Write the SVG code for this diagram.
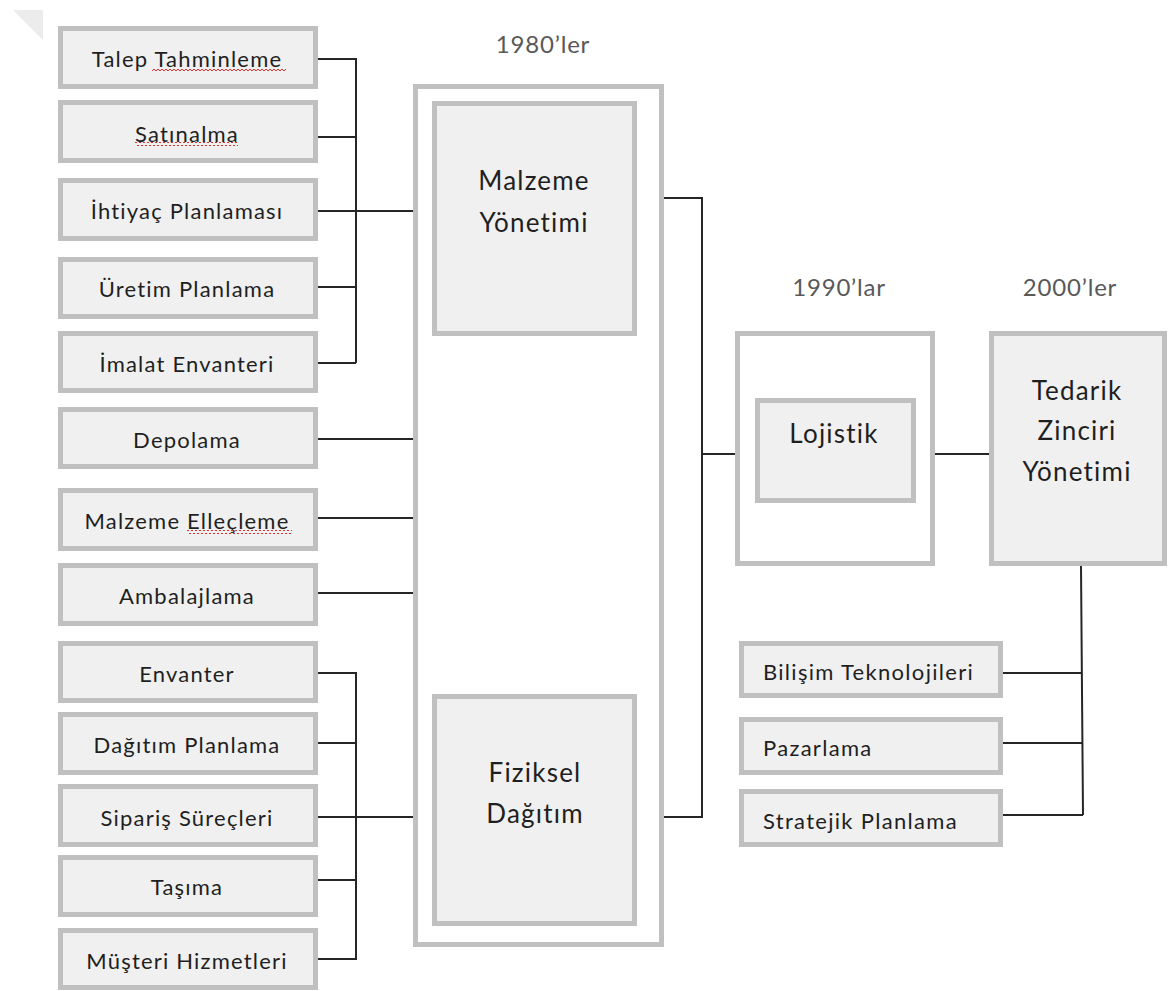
<svg xmlns="http://www.w3.org/2000/svg" width="1168" height="991" viewBox="0 0 1168 991">
<style>
.box{fill:#f0f0f0;stroke:#c0c0c0;stroke-width:5}
.wbox{fill:#ffffff;stroke:#c0c0c0;stroke-width:5}
.t{font-family:Lato,"Open Sans","Liberation Sans",sans-serif;font-size:22px;letter-spacing:1.2px;fill:#1f1f1f;text-anchor:middle}
.tl{font-family:Lato,"Open Sans","Liberation Sans",sans-serif;font-size:22px;letter-spacing:1.3px;fill:#1f1f1f;text-anchor:start}
.big{font-family:Lato,"Open Sans","Liberation Sans",sans-serif;font-size:26px;letter-spacing:1.2px;fill:#1f1f1f;text-anchor:middle}
.lab{font-family:Lato,"Open Sans","Liberation Sans",sans-serif;font-size:24px;letter-spacing:0.8px;fill:#595959;text-anchor:middle}
.c{fill:none;stroke:#262626;stroke-width:2}
</style>
<defs>
<pattern id="squig" width="4" height="4" patternUnits="userSpaceOnUse">
<path d="M0,3 L2,1 L4,3" fill="none" stroke="#e03030" stroke-width="1"/>
</pattern>
</defs>
<polygon points="13,10 43,10 43,40" fill="#ececec"/>
<g id="connectors">
<path class="c" d="M318,59 H356 V363 M318,137 H356 M318,211 H414 M318,287 H356 M318,363 H356"/>
<path class="c" d="M318,439 H414 M318,518 H414 M318,593 H414"/>
<path class="c" d="M318,673 H356 V959 H318 M318,743 H356 M318,817 H414 M318,880 H356"/>
<path class="c" d="M664,198 H702 V817 H664 M702,454 H735"/>
<path class="c" d="M935,454 H992"/>
<path class="c" d="M1081,566 L1083,815 M1003,673 H1082 M1003,743 H1082 M1003,815 H1083"/>
</g>
<g id="lab1980"><text class="lab" x="543" y="53">1980’ler</text></g>
<g id="lab1990"><text class="lab" x="839" y="296">1990’lar</text></g>
<g id="lab2000"><text class="lab" x="1070" y="296">2000’ler</text></g>
<g id="n-talep"><rect class="box" x="60.5" y="28.5" width="255" height="58"/><text class="t" x="187" y="67">Talep Tahminleme</text><rect x="152" y="68" width="134" height="4" fill="url(#squig)"/></g>
<g id="n-satin"><rect class="box" x="60.5" y="102.5" width="255" height="58"/><text class="t" x="187" y="142">Satınalma</text><rect x="135" y="142" width="103" height="4" fill="url(#squig)"/></g>
<g id="n-ihtiyac"><rect class="box" x="60.5" y="180.5" width="255" height="58"/><text class="t" x="187" y="219">İhtiyaç Planlaması</text></g>
<g id="n-uretim"><rect class="box" x="60.5" y="259.5" width="255" height="57"/><text class="t" x="187" y="297">Üretim Planlama</text></g>
<g id="n-imalat"><rect class="box" x="60.5" y="333.5" width="255" height="57"/><text class="t" x="187" y="372">İmalat Envanteri</text></g>
<g id="n-depolama"><rect class="box" x="60.5" y="409.5" width="255" height="57"/><text class="t" x="187" y="448">Depolama</text></g>
<g id="n-ellecleme"><rect class="box" x="60.5" y="490.5" width="255" height="58"/><text class="t" x="187" y="529">Malzeme Elleçleme</text><rect x="187" y="530" width="105" height="4" fill="url(#squig)"/></g>
<g id="n-ambalaj"><rect class="box" x="60.5" y="565.5" width="255" height="58"/><text class="t" x="187" y="604">Ambalajlama</text></g>
<g id="n-envanter"><rect class="box" x="60.5" y="643.5" width="255" height="57"/><text class="t" x="187" y="682">Envanter</text></g>
<g id="n-dagitimp"><rect class="box" x="60.5" y="714.5" width="255" height="58"/><text class="t" x="187" y="753">Dağıtım  Planlama</text></g>
<g id="n-siparis"><rect class="box" x="60.5" y="786.5" width="255" height="58"/><text class="t" x="187" y="826">Sipariş Süreçleri</text></g>
<g id="n-tasima"><rect class="box" x="60.5" y="857.5" width="255" height="57"/><text class="t" x="187" y="895">Taşıma</text></g>
<g id="n-musteri"><rect class="box" x="60.5" y="930.5" width="255" height="57"/><text class="t" x="187" y="969">Müşteri Hizmetleri</text></g>
<g id="n-1980"><rect class="wbox" x="415.5" y="86.5" width="246" height="858"/></g>
<g id="n-malzeme"><rect class="box" x="434.5" y="103.5" width="200" height="230"/><text class="big" x="534" y="190">Malzeme</text><text class="big" x="534" y="232">Yönetimi</text></g>
<g id="n-fiziksel"><rect class="box" x="434.5" y="696.5" width="200" height="227"/><text class="big" x="535" y="782">Fiziksel</text><text class="big" x="535" y="823">Dağıtım</text></g>
<g id="n-1990"><rect class="wbox" x="737.5" y="333.5" width="195" height="230"/></g>
<g id="n-lojistik"><rect class="box" x="757.5" y="400.5" width="156" height="100"/><text class="big" x="834" y="443">Lojistik</text></g>
<g id="n-tzy"><rect class="box" x="991.5" y="333.5" width="173" height="230"/><text class="big" x="1077" y="400">Tedarik</text><text class="big" x="1077" y="440">Zinciri</text><text class="big" x="1077" y="481">Yönetimi</text></g>
<g id="n-bilisim"><rect class="box" x="741.5" y="643.5" width="259" height="52"/><text class="tl" x="763" y="680">Bilişim Teknolojileri</text></g>
<g id="n-pazarlama"><rect class="box" x="741.5" y="719.5" width="259" height="53"/><text class="tl" x="763" y="756">Pazarlama</text></g>
<g id="n-stratejik"><rect class="box" x="741.5" y="791.5" width="259" height="53"/><text class="tl" x="763" y="829">Stratejik Planlama</text></g>
</svg>
